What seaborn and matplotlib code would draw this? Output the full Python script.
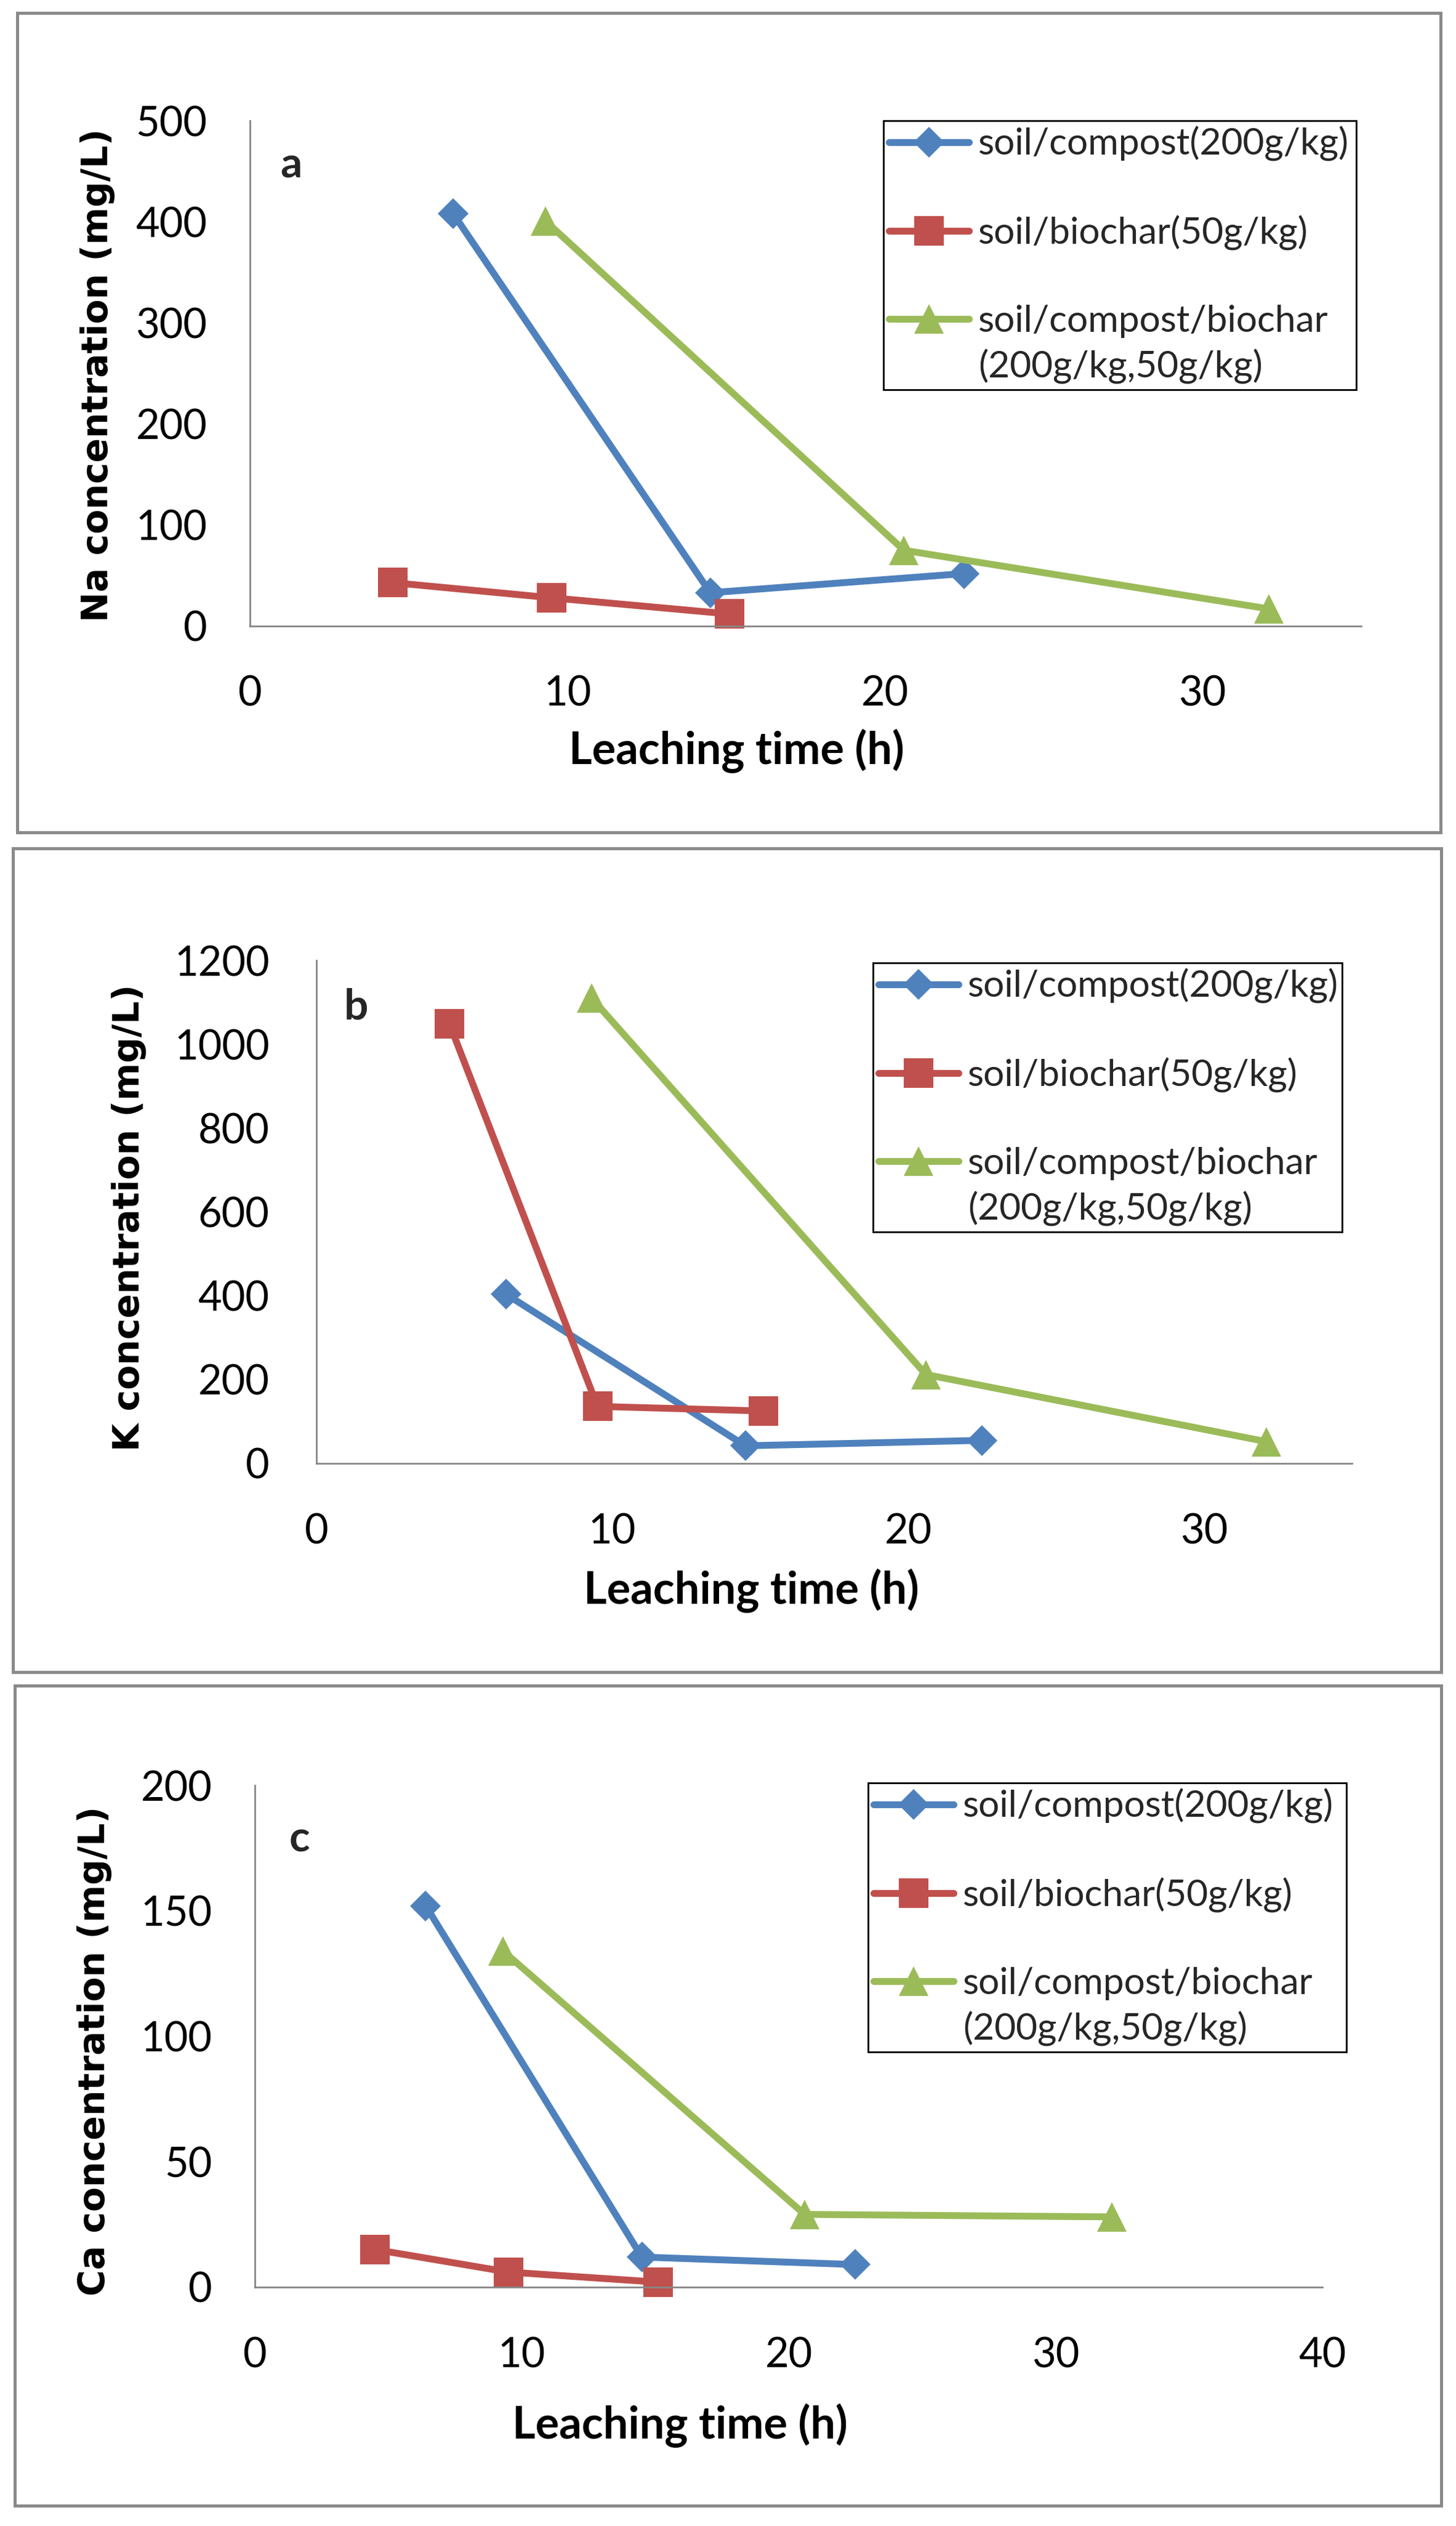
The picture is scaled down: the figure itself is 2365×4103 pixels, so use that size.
import numpy as np
import matplotlib
matplotlib.use("Agg")
import matplotlib.pyplot as plt
from matplotlib.patches import Rectangle
from matplotlib.legend_handler import HandlerLine2D
import seaborn as sns

# leaching time (h) of the three treatments
time_compost = [6.4, 14.5, 22.5]
time_biochar = [4.5, 9.5, 15.1]
time_mix = [9.3, 20.6, 32.1]

# Na concentration (mg/L)
na_compost = [408, 33, 52]
na_biochar = [43, 28, 12]
na_mix = [401, 75, 17]

# K concentration (mg/L)
k_compost = [404, 42, 55]
k_biochar = [1048, 136, 125]
k_mix = [1110, 212, 52]

# Ca concentration (mg/L)
ca_compost = [152, 12, 9]
ca_biochar = [15, 6, 2]
ca_mix = [134, 29, 28]

series_labels = ['soil/compost(200g/kg)', 'soil/biochar(50g/kg)',
                 'soil/compost/biochar\n(200g/kg,50g/kg)']
panel_letters = ['a', 'b', 'c']
ylabels = ['Na concentration (mg/L)', 'K concentration (mg/L)', 'Ca concentration (mg/L)']
xticks_ab = [0, 10, 20, 30]
xticks_c = [0, 10, 20, 30, 40]
yticks_a = [0, 100, 200, 300, 400, 500]
yticks_b = [0, 200, 400, 600, 800, 1000, 1200]
yticks_c = [0, 50, 100, 150, 200]

colors = ['#4F81BD', '#C0504D', '#9BBB59']
markers = ['D', 's', '^']
msizes = [25, 34, 35]


class FirstLineHandler(HandlerLine2D):
    # put the legend symbol next to the first line of a two-line label
    def __init__(self, shift, **kw):
        super().__init__(**kw)
        self.shift = shift

    def create_artists(self, legend, orig_handle, xdescent, ydescent,
                       width, height, fontsize, trans):
        artists = super().create_artists(legend, orig_handle, xdescent, ydescent,
                                         width, height, fontsize, trans)
        for a in artists:
            a.set_ydata(np.asarray(a.get_ydata()) + self.shift)
        return artists


sns.set_theme(style='white')
plt.rcParams['font.family'] = ['Lato', 'DejaVu Sans']

W, H = 2365, 4103
fig = plt.figure(figsize=(W / 100, H / 100), dpi=100)
fig.patch.set_facecolor('white')


def fig_box(l, t, r, b):
    return [l / W, 1 - b / H, (r - l) / W, (b - t) / H]


panels = [
    dict(times=[time_compost, time_biochar, time_mix],
         values=[na_compost, na_biochar, na_mix],
         xmax=35, ymax=500, xticks=xticks_ab, yticks=yticks_a,
         frame=(28, 21, 2340, 1352), axes=(406, 196, 2211, 1017),
         legend=(1435, 196, 2203), letter=(473, 269),
         xlab=(0.438, -0.247), ylab=(-0.137, 0.496), xpad=57, ypad=50),
    dict(times=[time_compost, time_biochar, time_mix],
         values=[k_compost, k_biochar, k_mix],
         xmax=35, ymax=1200, xticks=xticks_ab, yticks=yticks_b,
         frame=(21, 1378, 2341, 2716), axes=(514, 1560, 2196, 2377),
         legend=(1418, 1564, 2180), letter=(578, 1636),
         xlab=(0.420, -0.253), ylab=(-0.181, 0.488), xpad=58, ypad=55),
    dict(times=[time_compost, time_biochar, time_mix],
         values=[ca_compost, ca_biochar, ca_mix],
         xmax=40, ymax=200, xticks=xticks_c, yticks=yticks_c,
         frame=(24, 2738, 2341, 4070), axes=(414, 2900, 2148, 3715),
         legend=(1410, 2896, 2187), letter=(486, 2988),
         xlab=(0.398, -0.276), ylab=(-0.150, 0.471), xpad=58, ypad=50),
]

leg_size = 43.5
leg_linespacing = 1.38

for i, p in enumerate(panels):
    # outer frame of the panel
    l, t, r, b = p['frame']
    fig.add_artist(Rectangle((l / W, 1 - b / H), (r - l) / W, (b - t) / H,
                             transform=fig.transFigure, fill=False,
                             edgecolor='#8a8a8a', linewidth=3.6))

    ax = fig.add_axes(fig_box(*p['axes']))
    ax.set_facecolor('white')
    for x, y, lab, c, m, ms in zip(p['times'], p['values'], series_labels,
                                   colors, markers, msizes):
        sns.lineplot(x=x, y=y, ax=ax, color=c, marker=m, markersize=ms,
                     linewidth=8, markeredgewidth=0, label=lab, clip_on=False)

    ax.set_xlim(0, p['xmax'])
    ax.set_ylim(0, p['ymax'])
    ax.set_xticks(p['xticks'])
    ax.set_yticks(p['yticks'])
    sns.despine(ax=ax)
    for s in ['left', 'bottom']:
        ax.spines[s].set_color('#868686')
        ax.spines[s].set_linewidth(2)
    ax.tick_params(axis='x', length=0, labelsize=48, pad=p['xpad'], colors='black')
    ax.tick_params(axis='y', length=0, labelsize=48, pad=p['ypad'], colors='black')

    ax.set_xlabel('Leaching time (h)', fontsize=52, fontweight='bold', color='black')
    ax.xaxis.set_label_coords(*p['xlab'])
    ax.xaxis.label.set_va('center')
    ax.set_ylabel(ylabels[i], fontsize=42, fontweight='bold',
                  family=['DejaVu Sans'], color='black')
    ax.yaxis.set_label_coords(*p['ylab'])
    ax.yaxis.label.set_va('center')

    lx, ly = p['letter']
    fig.text(lx / W, 1 - ly / H, panel_letters[i], fontsize=50, fontweight='bold',
             ha='center', va='center')

    handles, labels = ax.get_legend_handles_labels()
    l, t, r = p['legend']
    leg = ax.legend(handles, labels, loc='upper left',
                    bbox_to_anchor=(l / W, 1 - t / H, (r - l) / W, 0),
                    bbox_transform=fig.transFigure, mode='expand', fontsize=leg_size,
                    frameon=True, fancybox=False, framealpha=1, edgecolor='black',
                    borderpad=0.15, labelspacing=1.45, handlelength=2.15,
                    handletextpad=0.25, borderaxespad=0,
                    handler_map={handles[2]: FirstLineHandler(
                        shift=leg_size * leg_linespacing / 2)})
    leg.get_frame().set_linewidth(2)
    leg.get_texts()[2].set_linespacing(leg_linespacing)

fig.savefig('out.png', dpi=100)
